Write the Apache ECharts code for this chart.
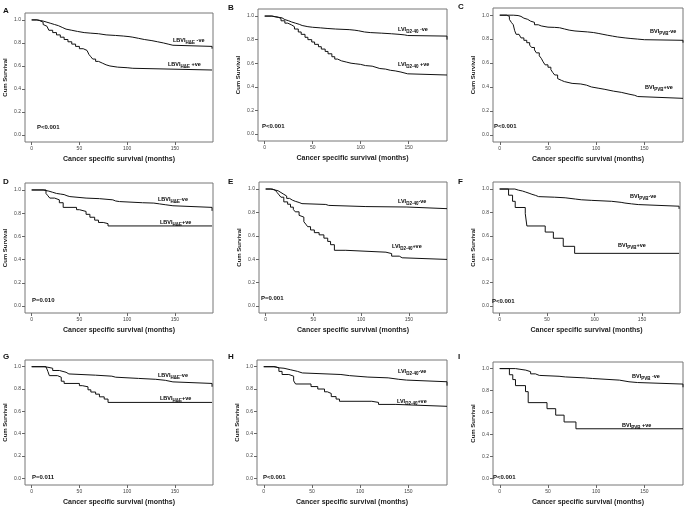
<!DOCTYPE html>
<html><head><meta charset="utf-8">
<script src="https://cdn.jsdelivr.net/npm/echarts@6/dist/echarts.min.js"></script>
<style>html,body{margin:0;padding:0;background:#fff}#c{width:685px;height:507px}</style>
</head><body><div id="c"></div>
<script>
// ---------- data ----------
const panelLetters = ['A','B','C','D','E','F','G','H','I'];
const xTicks = [0, 50, 100, 150];
const yTicks = [0, 0.2, 0.4, 0.6, 0.8, 1.0];
const xTitle = 'Cancer specific survival (months)';
const yTitle = 'Cum Survival';
const pValues = ['P<0.001','P<0.001','P<0.001','P=0.010','P=0.001','P<0.001','P=0.011','P<0.001','P<0.001'];
// label parts: [main, subscript, suffix]
const negLabels = [['LBVI','H&E',' -ve'],['LVI','D2-40',' -ve'],['BVI','PVB','-ve'],
                   ['LBVI','H&E','-ve'],['LVI','D2-40','-ve'],['BVI','PVB','-ve'],
                   ['LBVI','H&E','-ve'],['LVI','D2-40','-ve'],['BVI','PVB',' -ve']];
const posLabels = [['LBVI','H&E',' +ve'],['LVI','D2-40',' +ve'],['BVI','PVB','+ve'],
                   ['LBVI','H&E','+ve'],['LVI','D2-40','+ve'],['BVI','PVB','+ve'],
                   ['LBVI','H&E','+ve'],['LVI','D2-40','+ve'],['BVI','PVB',' +ve']];

const negA = [[0,1],[6,0.995],[9,0.99],[12,0.98],[16,0.97],[20,0.96],[24,0.95],[28,0.935],[32,0.92],[36,0.91],[42,0.9],[48,0.89],[55,0.885],[62,0.88],[70,0.87],[78,0.865],[88,0.86],[96,0.855],[102,0.85],[106,0.84],[112,0.83],[118,0.82],[126,0.81],[132,0.8],[138,0.79],[143,0.78],[148,0.77],[189,0.77],[189,0.75]];
const posA = [[0,1],[5,0.995],[8,0.99],[10,0.98],[12,0.96],[14,0.945],[16,0.93],[18,0.91],[22,0.89],[26,0.87],[30,0.85],[34,0.83],[38,0.81],[42,0.79],[46,0.77],[50,0.75],[54,0.735],[58,0.72],[60,0.7],[62,0.68],[64,0.66],[67,0.64],[70,0.625],[74,0.61],[78,0.6],[82,0.59],[90,0.585],[100,0.58],[106,0.57],[108,0.565],[189,0.565]];
const negB = [[0,1],[7,0.995],[10,0.99],[14,0.985],[18,0.97],[21,0.96],[25,0.95],[28,0.94],[32,0.93],[36,0.92],[39,0.91],[45,0.905],[50,0.9],[58,0.895],[65,0.89],[74,0.885],[88,0.88],[94,0.875],[98,0.865],[104,0.86],[110,0.855],[122,0.85],[132,0.845],[140,0.84],[146,0.835],[149,0.83],[190,0.83],[190,0.8]];
const posB = [[0,1],[8,0.995],[11,0.99],[14,0.98],[17,0.96],[21,0.94],[24,0.925],[28,0.91],[31,0.89],[35,0.865],[38,0.845],[42,0.82],[45,0.8],[49,0.78],[52,0.76],[56,0.74],[59,0.72],[63,0.7],[66,0.68],[70,0.655],[73,0.635],[76,0.62],[80,0.61],[85,0.6],[90,0.595],[95,0.59],[100,0.58],[105,0.575],[112,0.565],[116,0.555],[120,0.55],[126,0.54],[131,0.535],[136,0.525],[142,0.51],[149,0.5],[190,0.5]];
const negC = [[0,1],[14,0.997],[19,0.99],[22,0.975],[25,0.965],[29,0.95],[32,0.94],[36,0.92],[40,0.91],[43,0.9],[50,0.898],[57,0.895],[62,0.885],[67,0.875],[72,0.868],[78,0.86],[91,0.855],[97,0.848],[102,0.84],[107,0.832],[112,0.825],[117,0.818],[122,0.81],[130,0.805],[136,0.8],[143,0.795],[150,0.79],[190,0.79],[190,0.77]];
const posC = [[0,1],[7,0.99],[10,0.965],[12,0.94],[14,0.92],[15.5,0.87],[17,0.84],[20,0.83],[22,0.81],[25,0.79],[28,0.77],[31,0.75],[33,0.73],[36,0.71],[38,0.685],[41,0.66],[43,0.64],[45,0.61],[47,0.585],[50,0.565],[53,0.545],[55,0.52],[57,0.5],[60,0.47],[62,0.455],[64,0.445],[67,0.43],[75,0.425],[84,0.415],[90,0.4],[95,0.39],[102,0.38],[109,0.365],[118,0.355],[126,0.34],[134,0.33],[140,0.32],[143,0.305],[190,0.305]];
const negD = [[0,1],[12,0.995],[15,0.99],[18,0.98],[22,0.97],[26,0.965],[30,0.96],[34,0.95],[37,0.943],[40,0.93],[57,0.925],[71,0.915],[85,0.905],[88,0.9],[92,0.89],[116,0.887],[128,0.88],[134,0.873],[140,0.864],[148,0.85],[189,0.85],[189,0.82]];
const posD = [[0,1],[15,0.97],[17,0.95],[19,0.93],[24,0.915],[29,0.89],[33,0.85],[47,0.83],[50,0.815],[57,0.79],[61,0.765],[66,0.74],[70,0.72],[75,0.71],[80,0.69],[189,0.69]];
const negE = [[0,1],[5,0.995],[8,0.99],[10,0.985],[13,0.97],[16,0.955],[19,0.94],[22,0.92],[25,0.905],[28,0.895],[31,0.885],[35,0.875],[38,0.868],[63,0.86],[66,0.85],[105,0.846],[148,0.832],[190,0.832]];
const posE = [[0,1],[7,0.99],[10,0.98],[12,0.97],[14,0.95],[16,0.93],[19,0.89],[23,0.87],[26,0.845],[29,0.825],[31,0.805],[35,0.775],[37,0.76],[40,0.72],[42,0.7],[44,0.678],[47,0.65],[51,0.627],[56,0.608],[61,0.58],[65,0.552],[68,0.524],[72,0.476],[84,0.46],[126,0.448],[132,0.426],[140,0.412],[143,0.398],[190,0.398]];
const negF = [[0,1],[16,0.99],[20,0.983],[24,0.975],[27,0.964],[31,0.955],[34,0.945],[38,0.935],[41,0.93],[58,0.925],[69,0.914],[80,0.908],[86,0.903],[97,0.895],[118,0.886],[128,0.88],[132,0.873],[139,0.867],[146,0.853],[189,0.853],[189,0.83]];
const posF = [[0,1],[9.4,0.947],[13.6,0.895],[16.4,0.842],[27,0.789],[28.7,0.684],[48,0.632],[56.6,0.579],[67,0.51],[79,0.45],[189,0.45]];
const negG = [[0,1],[13,0.995],[17,0.986],[22,0.966],[29,0.95],[36,0.935],[39,0.924],[67,0.915],[84,0.906],[88,0.895],[112,0.887],[130,0.878],[140,0.864],[148,0.85],[189,0.85],[189,0.82]];
const posG = [[0,1],[15,0.99],[17,0.957],[18.5,0.92],[27,0.906],[31,0.87],[34,0.85],[50,0.83],[53,0.82],[59,0.793],[62,0.773],[67,0.754],[71,0.73],[76,0.71],[80,0.68],[189,0.68]];
const negH = [[0,1],[10.5,0.995],[13,0.99],[16,0.986],[21,0.972],[28,0.958],[35,0.944],[40,0.93],[80,0.92],[89,0.907],[108,0.9],[129,0.887],[140,0.88],[148,0.865],[190,0.865],[190,0.83]];
const posH = [[0,1],[12,0.99],[15.7,0.958],[19,0.93],[26,0.915],[31,0.873],[33,0.845],[49,0.822],[56,0.8],[63,0.775],[66,0.76],[70,0.732],[75,0.71],[78.5,0.69],[112,0.68],[119,0.662],[137,0.645],[190,0.645]];
const negI = [[0,1],[16.3,0.995],[20,0.986],[27,0.972],[32,0.952],[37,0.938],[41,0.93],[61.5,0.924],[68,0.915],[89,0.91],[96,0.895],[124,0.88],[134,0.873],[143,0.859],[190,0.859],[190,0.83]];
const posI = [[0,1],[10,0.944],[13.5,0.9],[16.3,0.845],[26.7,0.79],[29.5,0.69],[49,0.635],[58,0.576],[66.7,0.514],[79,0.452],[190,0.452]];

const negSeries = [negA,negB,negC,negD,negE,negF,negG,negH,negI];
const posSeries = [posA,posB,posC,posD,posE,posF,posG,posH,posI];

// ---------- layout (pixels) ----------
const boxes = [ // left, top, width, height
  [25,13,188,129],[258,9,189,132],[493,8,190,134],
  [25,183,188,130],[259,182,188,131],[493,182,187,131],
  [25,360,188,130],[257,360,190,128],[493,362,190,127]
];
const letterPos = [[3,7],[228,4],[458,3],[3,178],[228,178],[458,178],[3,353],[228,353],[458,353]];
const pPos = [[37,128],[262,127],[494,127],[32,301],[261,299],[492,302],[32,478],[263,478],[493,478]];
const negLabPos = [[173,42],[398,31],[650,33],[158,201],[398,203],[630,198],[158,377],[398,373],[632,378]];
const posLabPos = [[168,66],[398,66],[645,89],[160,224],[392,248],[618,247],[160,400],[397,403],[622,427]];

const FONT = 'Liberation Sans, Arial, sans-serif';
const grids = [], xAxes = [], yAxes = [], series = [], graphics = [];
const rich = {
  m: {fontSize: 5.5, fontWeight: 'bold', fontFamily: FONT, color: '#222', height: 9, verticalAlign: 'top'},
  s: {fontSize: 4.5, fontWeight: 'bold', fontFamily: FONT, color: '#222', height: 4, verticalAlign: 'bottom'}
};
function lab(parts){ return '{m|' + parts[0] + '}{s|' + parts[1] + '}{m|' + parts[2] + '}'; }

for (let i = 0; i < 9; i++) {
  const b = boxes[i];
  grids.push({left: b[0], top: b[1], width: b[2], height: b[3], show: true,
    borderColor: '#777', borderWidth: 1, backgroundColor: 'transparent', containLabel: false});
  xAxes.push({gridIndex: i, type: 'value', min: -7, max: 190, position: 'bottom',
    axisLine: {show: false, onZero: false}, splitLine: {show: false},
    axisTick: {show: true, customValues: xTicks, length: 3, lineStyle: {color: '#666', width: 1}},
    axisLabel: {customValues: xTicks, fontSize: 5, margin: 4, color: '#444', fontFamily: FONT},
    name: xTitle, nameLocation: 'middle', nameGap: 14,
    nameTextStyle: {fontSize: 7, fontWeight: 'bold', fontFamily: FONT, color: '#222'}});
  yAxes.push({gridIndex: i, type: 'value', min: -0.06, max: 1.06, position: 'left',
    axisLine: {show: false, onZero: false}, splitLine: {show: false},
    axisTick: {show: true, customValues: yTicks, length: 3, lineStyle: {color: '#666', width: 1}},
    axisLabel: {customValues: yTicks, fontSize: 5, margin: 4, color: '#444', fontFamily: FONT,
      formatter: v => v.toFixed(1)},
    name: yTitle, nameLocation: 'middle', nameGap: 17, nameRotate: 90,
    nameTextStyle: {fontSize: 6, fontWeight: 'bold', fontFamily: FONT, color: '#222'}});
  [negSeries[i], posSeries[i]].forEach(d => series.push({
    type: 'line', xAxisIndex: i, yAxisIndex: i, data: d, step: 'end',
    symbol: 'none', lineStyle: {color: '#111', width: 1}, silent: true
  }));
  graphics.push({type: 'text', left: letterPos[i][0], top: letterPos[i][1],
    style: {text: panelLetters[i], font: 'bold 8px ' + FONT, fill: '#111'}});
  graphics.push({type: 'text', left: pPos[i][0], top: pPos[i][1] - 4,
    style: {text: pValues[i], font: 'bold 6px ' + FONT, fill: '#111'}});
  graphics.push({type: 'text', left: negLabPos[i][0], top: negLabPos[i][1] - 5,
    style: {text: lab(negLabels[i]), rich: rich}});
  graphics.push({type: 'text', left: posLabPos[i][0], top: posLabPos[i][1] - 5,
    style: {text: lab(posLabels[i]), rich: rich}});
}

const chart = echarts.init(document.getElementById('c'), null, {renderer: 'canvas'});
chart.setOption({
  animation: false,
  backgroundColor: '#fff',
  grid: grids, xAxis: xAxes, yAxis: yAxes, series: series, graphic: graphics
});
</script></body></html>
